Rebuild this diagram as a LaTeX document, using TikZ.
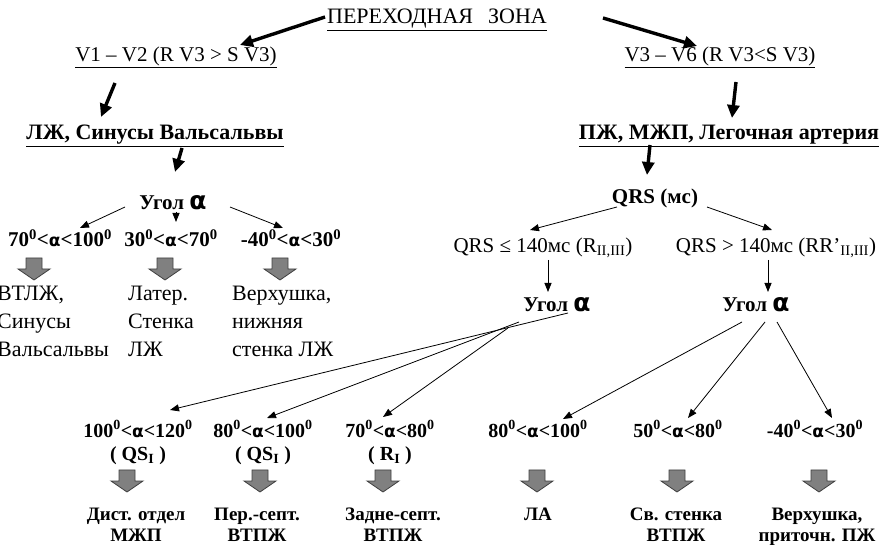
\documentclass[tikz,border=0pt]{standalone}
\usepackage{fontspec}
\setmainfont{Liberation Serif}
\newfontfamily\alfont{DejaVu Sans}
\usetikzlibrary{positioning, arrows.meta, calc}
\newcommand{\al}{{\alfont\fontsize{17}{17}\selectfont α}}
\newcommand{\bigal}{{\alfont\fontsize{25}{25}\selectfont α}}
\newcommand{\dg}{\textsuperscript{0}}

\begin{document}
\begin{tikzpicture}[
    x=1pt, y=-1pt, % one unit = one pixel of the layout, y downwards
    font=\fontsize{21}{25}\selectfont,
    txt/.style={inner sep=1pt},
    bold/.style={inner sep=1pt, font=\fontsize{21}{25}\selectfont\bfseries},
    head/.style={inner sep=1pt, font=\fontsize{22}{25}\selectfont\bfseries},
    angle/.style={inner sep=1pt, font=\fontsize{21}{25}\selectfont\bfseries},
    anglerange/.style={inner sep=1pt, align=center, anchor=north, font=\fontsize{20}{23}\selectfont\bfseries},
    result/.style={inner sep=1pt, align=center, anchor=north, font=\fontsize{19}{21}\selectfont\bfseries},
    col/.style={inner sep=0pt, anchor=north west, align=left, font=\fontsize{22}{28}\selectfont},
    arrow/.style={-{Triangle[length=9pt,width=7pt]}, line width=0.8pt},
    bigarrow/.style={-{Triangle[length=13pt,width=12pt]}, line width=3.4pt},
    block/.style={draw=black!75, fill=black!50, line width=0.8pt}
]
\useasboundingbox (0,0) rectangle (879,545);

% top level
\node[txt, font=\fontsize{22}{25}\selectfont] (title) at (437,20) {\underline{ПЕРЕХОДНАЯ\hspace{15pt}ЗОНА}};
\node[txt] (v12) at (176,57) {\underline{V1 – V2 (R V3 > S V3)}};
\node[txt] (v36) at (720,57) {\underline{V3 – V6 (R V3<S V3)}};
\node[head] (lzh) at (155,136) {\underline{ЛЖ, Синусы Вальсальвы}};
\node[head] (pzh) at (729,136) {\underline{ПЖ, МЖП, Легочная артерия}};

% left branch
\node[angle] (angA) at (173,203) {Угол \bigal};
\node[bold] (r70) at (60,238) {70\dg<\al<100\dg};
\node[bold] (r30) at (171,238) {30\dg<\al<70\dg};
\node[bold] (r40) at (291,238) {-40\dg<\al<30\dg};
\node[col] (c1) at (-3,286) {ВТЛЖ,\\Синусы\\Вальсальвы};
\node[col] (c2) at (128,286) {Латер.\\Стенка\\ЛЖ};
\node[col] (c3) at (232,286) {Верхушка,\\нижняя\\стенка ЛЖ};

% right branch
\node[bold] (qrs) at (655,198) {QRS (мс)};
\node[txt] (qle) at (543,248) {QRS ≤ 140мс (R\textsubscript{II,III})};
\node[txt] (qgt) at (776,248) {QRS > 140мс (RR’\textsubscript{II,III})};
\node[angle] (angB) at (557,305) {Угол \bigal};
\node[angle] (angC) at (756,305) {Угол \bigal};

% angle ranges
\node[anglerange] (b1) at (138,419) {100\dg<\al<120\dg\\( QS\textsubscript{I} )};
\node[anglerange] (b2) at (263,419) {80\dg<\al<100\dg\\( QS\textsubscript{I} )};
\node[anglerange] (b3) at (390,419) {70\dg<\al<80\dg\\( R\textsubscript{I} )};
\node[anglerange] (b4) at (538,419) {80\dg<\al<100\dg};
\node[anglerange] (b5) at (678,419) {50\dg<\al<80\dg};
\node[anglerange] (b6) at (815,419) {-40\dg<\al<30\dg};

% localisation
\node[result] (t1) at (136,507) {Дист. отдел\\МЖП};
\node[result] (t2) at (257,507) {Пер.-септ.\\ВТПЖ};
\node[result] (t3) at (393,507) {Задне-септ.\\ВТПЖ};
\node[result] (t4) at (538,507) {ЛА};
\node[result] (t5) at (676,507) {Св. стенка\\ВТПЖ};
\node[result] (t6) at (817,507) {Верхушка,\\приточн. ПЖ};

% gray block arrows
\foreach \x/\y in {34/258, 165/258, 280/258, 127/470, 260/470, 383/470, 537/470, 677/470, 819/470}
    \draw[block, shift={(\x,\y)}] (-8,0) -- (8,0) -- (8,11) -- (16,11) -- (0,22) -- (-16,11) -- (-8,11) -- cycle;

% thick arrows
\draw[bigarrow] ($(title)+(-112,-3)$) -- ($(v12)+(64,-12)$);
\draw[bigarrow] ($(title)+(166,-2)$) -- ($(v36)+(-23,-11)$);
\draw[bigarrow] ($(v12)+(-61,26)$) -- ($(lzh)+(-54,-19)$);
\draw[bigarrow] ($(v36)+(16,25)$) -- ($(pzh)+(3,-18)$);
\draw[bigarrow] ($(lzh)+(27,12)$) -- ($(angA)+(2,-31)$);
\draw[bigarrow] ($(pzh)+(-79,9)$) -- ($(qrs)+(-8,-23)$);

% thin arrows
\draw[arrow] ($(angA)+(-48,4)$) -- ($(r70)+(20,-10)$);
\draw[arrow] ($(angA)+(3,9)$) -- ($(r30)+(5,-16)$);
\draw[arrow] ($(angA)+(57,4)$) -- ($(r40)+(-8,-10)$);
\draw[arrow] ($(qrs)+(-38,9)$) -- ($(qle)+(-13,-18)$);
\draw[arrow] ($(qrs)+(52,9)$) -- ($(qgt)+(-4,-18)$);
\draw[arrow] ($(qle)+(5,12)$) -- ($(angB)+(-9,-13)$);
\draw[arrow] ($(qgt)+(-8,12)$) -- ($(angC)+(12,-13)$);
\draw[arrow] ($(angB)+(11,8)$) -- ($(b1.north)+(32,-9)$);
\draw[arrow] ($(angB)+(-38,17)$) -- ($(b2.north)+(4,-1)$);
\draw[arrow] ($(angB)+(-49,23)$) -- ($(b3.north)+(-7,-2)$);
\draw[arrow] ($(angC)+(-14,17)$) -- ($(b4.north)+(25,0)$);
\draw[arrow] ($(angC)+(9,17)$) -- ($(b5.north)+(10,-1)$);
\draw[arrow] ($(angC)+(21,17)$) -- ($(b6.north)+(17,-1)$);
\end{tikzpicture}
\end{document}
